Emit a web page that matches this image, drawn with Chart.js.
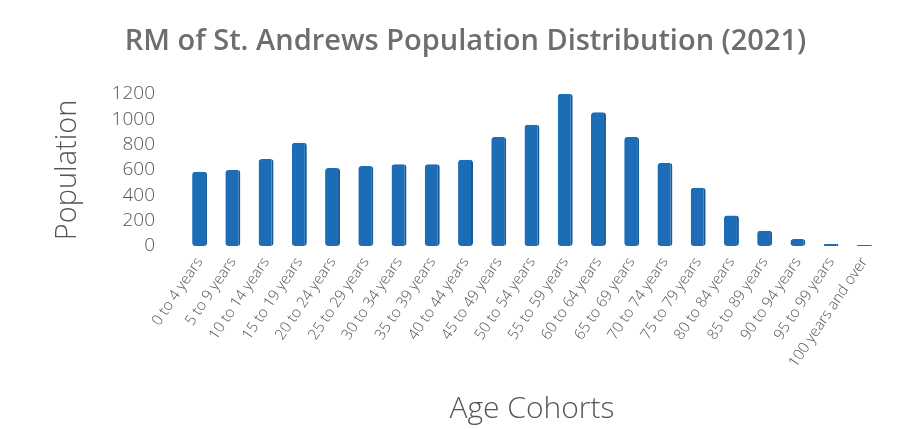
<!DOCTYPE html>
<html>
<head>
<meta charset="utf-8">
<script src="https://cdn.jsdelivr.net/npm/chart.js@4"></script>
<style>
  body { margin: 0; background: #fff; }
  #wrap { width: 924px; height: 429px; }
</style>
</head>
<body>
<div id="wrap"><canvas id="myChart"></canvas></div>
<script>
// age cohorts
var cohorts = ['0 to 4 years', '5 to 9 years', '10 to 14 years', '15 to 19 years', '20 to 24 years',
  '25 to 29 years', '30 to 34 years', '35 to 39 years', '40 to 44 years', '45 to 49 years',
  '50 to 54 years', '55 to 59 years', '60 to 64 years', '65 to 69 years', '70 to 74 years',
  '75 to 79 years', '80 to 84 years', '85 to 89 years', '90 to 94 years', '95 to 99 years',
  '100 years and over'];
// population per cohort
var population = [585, 600, 685, 815, 615, 630, 645, 645, 680, 860,
  955, 1200, 1055, 860, 655, 460, 240, 120, 55, 15, 8];
// y axis ticks
var yTicks = [0, 200, 400, 600, 800, 1000, 1200];

var ctx = document.getElementById('myChart').getContext('2d');

var myChart = new Chart(ctx, {
  type: 'bar',
  data: {
    labels: cohorts,
    datasets: [{
      label: 'Population',
      data: population,
      backgroundColor: '#1d6cb6',
      borderColor: '#175a9a',
      borderWidth: { right: 2 },
      borderRadius: 3,
      borderSkipped: false,
      categoryPercentage: 1,
      barPercentage: 0.45
    }]
  },
  options: {
    responsive: true,
    maintainAspectRatio: false,
    animation: false,
    layout: { padding: { left: 50, right: 43, top: 0, bottom: 0 } },
    plugins: {
      legend: { display: false },
      tooltip: { enabled: false },
      title: {
        display: true,
        text: 'RM of St. Andrews Population Distribution (2021)',
        color: '#6e6e6e',
        font: { family: 'Open Sans', size: 29, weight: '600' },
        padding: { top: 24, bottom: 35 }
      }
    },
    scales: {
      x: {
        afterFit: function (axis) { axis.height = 183; },
        grid: { display: false, tickLength: 0 },
        border: { display: false },
        ticks: {
          color: '#555',
          font: { family: 'Open Sans', size: 15, weight: '300' },
          minRotation: 56,
          maxRotation: 56,
          autoSkip: false,
          padding: 8
        },
        title: {
          display: true,
          text: 'Age Cohorts',
          color: '#555',
          font: { family: 'Open Sans', size: 30, weight: '300' },
          padding: { top: 0, bottom: 2 }
        }
      },
      y: {
        min: 0,
        max: 1200,
        afterFit: function (axis) { axis.width = 133; },
        afterBuildTicks: function (axis) {
          axis.ticks = yTicks.map(function (v) { return { value: v }; });
        },
        grid: { display: false, tickLength: 0 },
        border: { display: false },
        ticks: {
          color: '#555',
          font: { family: 'Open Sans', size: 19, weight: '300' },
          padding: 28,
          autoSkip: false,
          callback: function (v) { return String(v); }
        },
        title: {
          display: true,
          text: 'Population',
          color: '#555',
          font: { family: 'Open Sans', size: 29, weight: '300' },
          padding: { top: 0, bottom: 0 }
        }
      }
    }
  }
});
</script>
</body>
</html>
